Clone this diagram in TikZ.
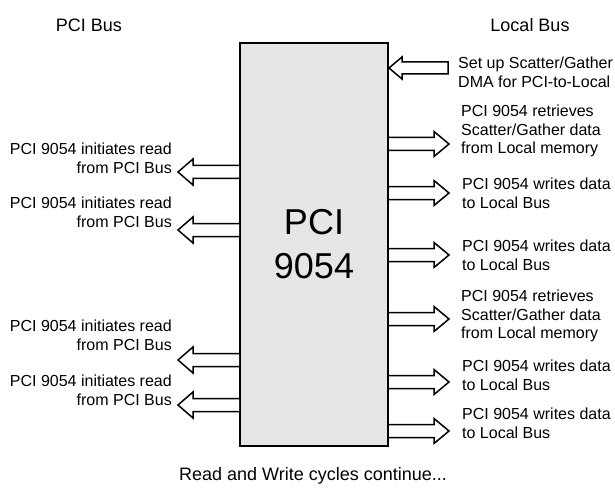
\documentclass[tikz,border=0pt]{standalone}
\usepackage{fontspec}
\setmainfont{Liberation Sans}
\begin{document}
\begin{tikzpicture}[x=1pt,y=-1pt,
  lbl/.style={inner sep=0pt, font=\fontsize{16}{18.6}\selectfont},
  rlbl/.style={lbl, anchor=west, align=left},
  llbl/.style={lbl, anchor=east, align=right},
  hdr/.style={inner sep=0pt, font=\fontsize{18}{21}\selectfont},
  blk/.style={draw=black, line width=1.5pt, fill=white, line join=miter},
  chipbox/.style={draw=black, line width=2pt, fill=chipgray, minimum width=148pt, minimum height=403pt, anchor=north west, inner sep=0pt}
]
\definecolor{chipgray}{RGB}{230,230,230}
\useasboundingbox (0,0) rectangle (615,489);
\fill[white] (0,0) rectangle (615,489);

\node[chipbox] (chip) at (239,42) {};
\node[align=center, inner sep=0pt, font=\fontsize{36}{44}\selectfont] (chiplabel) at (chip.center) {PCI\\9054};

% headers and footer
\node[hdr] (pcibus) at (89,25) {PCI Bus};
\node[hdr] (localbus) at (530,25) {Local Bus};
\node[hdr] (footer) at (313,476) {Read and Write cycles continue...};

% right side: input arrow (points into chip)
\coordinate (in1) at (chip.east |- 0,68);
\draw[blk] (in1) -- ++(13,-11) -- ++(0,5) -- ++(46,0) -- ++(0,12) -- ++(-46,0) -- ++(0,5) -- cycle;

% right side: output arrows
\foreach \yy [count=\i] in {131,180,242,306,369,418}{
  \coordinate (ro\i) at (chip.east |- 0,\yy);
  \draw[blk] ([yshift=-6.5pt]ro\i) -- ++(45,0) -- ++(0,-6) -- ++(15,12.5) -- ++(-15,12.5) -- ++(0,-6) -- ++(-45,0);
}

% left side: output arrows
\foreach \yy [count=\i] in {159,217,347,392}{
  \coordinate (lo\i) at (chip.west |- 0,\yy);
  \draw[blk] ([yshift=-6.5pt]lo\i) -- ++(-46,0) -- ++(0,-6.5) -- ++(-15,13) -- ++(15,13) -- ++(0,-6.5) -- ++(46,0);
}

% right labels
\node[rlbl] (r0) at (458,72) {Set up Scatter/Gather\\DMA for PCI-to-Local};
\node[rlbl] (r1) at (461,131) {PCI 9054 retrieves\\Scatter/Gather data\\from Local memory};
\node[rlbl] (r2) at (462,193) {PCI 9054 writes data\\to Local Bus};
\node[rlbl] (r3) at (462,255) {PCI 9054 writes data\\to Local Bus};
\node[rlbl] (r4) at (461,316) {PCI 9054 retrieves\\Scatter/Gather data\\from Local memory};
\node[rlbl] (r5) at (462,375) {PCI 9054 writes data\\to Local Bus};
\node[rlbl] (r6) at (462,423) {PCI 9054 writes data\\to Local Bus};

% left labels
\node[llbl] (l1) at (172,158) {PCI 9054 initiates read\\from PCI Bus};
\node[llbl] (l2) at (172,212) {PCI 9054 initiates read\\from PCI Bus};
\node[llbl] (l3) at (172,335) {PCI 9054 initiates read\\from PCI Bus};
\node[llbl] (l4) at (172,390) {PCI 9054 initiates read\\from PCI Bus};
\end{tikzpicture}
\end{document}
